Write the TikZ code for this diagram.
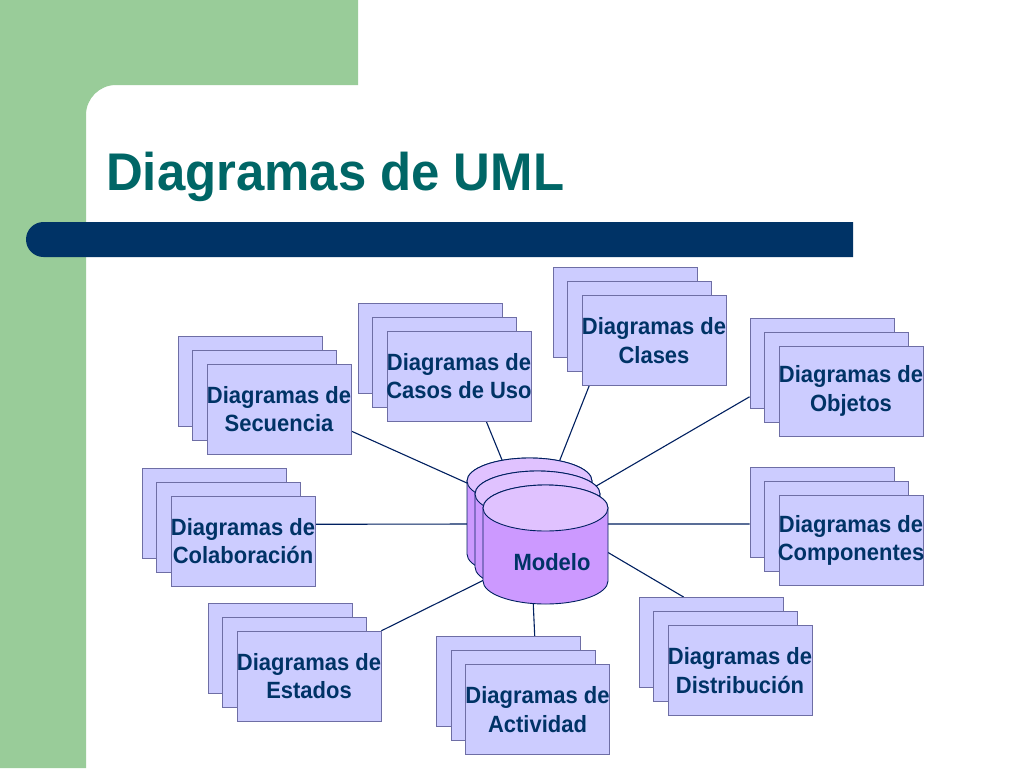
\documentclass[tikz,border=0pt]{standalone}
\usepackage{fontspec}
\setmainfont{Liberation Sans}
\newfontfamily\estrecha[FakeStretch=0.935]{Liberation Sans}
\newfontfamily\titular[FakeStretch=0.96]{Liberation Sans}
\usepackage{tikz}
\usetikzlibrary{backgrounds}

\definecolor{verde}{RGB}{153,204,153}
\definecolor{azul}{RGB}{0,51,102}
\definecolor{titulo}{RGB}{0,102,102}
\definecolor{lila}{RGB}{204,153,255}
\definecolor{lilaclaro}{RGB}{224,194,255}
\definecolor{lavanda}{RGB}{204,204,255}
\definecolor{borde}{RGB}{110,110,165}
\definecolor{linea}{RGB}{0,32,96}

\pgfdeclarelayer{fondo}
\pgfdeclarelayer{lineas}
\pgfsetlayers{fondo,lineas,main}

\tikzset{
	hoja/.style={draw=borde, fill=lavanda, line width=0.8pt, minimum width=144pt, minimum height=90pt, inner sep=0pt},
	texto/.style={text=azul, font=\estrecha\fontsize{23.5}{28.5}\selectfont\bfseries, align=center, inner sep=0pt},
	union/.style={draw=linea, line width=1.1pt},
	cilindro/.style={draw=linea, line width=0.9pt, fill=lila},
}

\begin{document}
\begin{tikzpicture}[x=1pt,y=-1pt]
	\useasboundingbox (0,0) rectangle (1024,768);
	\begin{pgfonlayer}{fondo}
		\fill[white] (0,0) rectangle (1024,768);
		\fill[verde] (0,0) -- (358,0) -- (358,85) -- (116,85) arc[start angle=90, end angle=180, radius=30pt] -- (86,768) -- (0,768) -- cycle;
		\fill[azul] (853,222) -- (43.5,222) arc[start angle=90, end angle=270, radius=17.5pt] -- (853,257) -- cycle;
	\end{pgfonlayer}
	\node[anchor=base west, inner sep=0pt, text=titulo, font=\titular\fontsize{53}{60}\selectfont\bfseries] (tit) at (106,190) {Diagramas de UML};
	
	\foreach \n/\x/\y/\t in {sec/279/409/{Diagramas de\\Secuencia}, cas/459/376/{Diagramas de\\Casos de Uso}, cla/654/340.5/{Diagramas de\\Clases}, obj/851/391/{Diagramas de\\Objetos}, col/243/541/{Diagramas de\\Colaboración}, com/851/540.5/{Diagramas de\\Componentes}, est/309/676/{Diagramas de\\Estados}, act/537.5/709.5/{Diagramas de\\Actividad}, dis/740/670.5/{Diagramas de\\Distribución}}
	{
		\pgfmathsetmacro{\xa}{\x-29}
		\pgfmathsetmacro{\ya}{\y-28}
		\pgfmathsetmacro{\xb}{\x-14.5}
		\pgfmathsetmacro{\yb}{\y-14}
		\node[hoja] (\n-a) at (\xa,\ya) {};
		\node[hoja] (\n-b) at (\xb,\yb) {};
		\node[hoja] (\n) at (\x,\y) {};
		\node[texto] at (\n) {\t};
	}
	
	\begin{pgfonlayer}{lineas}
		\foreach \n/\a/\px/\py in {sec/-17/472.5/485.5, cas/-59/504.3/465.5, cla/215.8/557.7/465.5, obj-a/205.8/592.8/488, col/13.3/473/524, com-a/189.1/602/524, dis-a/121.1/603.8/550, est/32/487.4/578.3, act-a/60.9/533/598}
		{
			\coordinate (m-\n) at (\px,\py);
			\draw[union] (\n.\a) -- (m-\n);
		}
	\end{pgfonlayer}
	
	\foreach \l/\t in {467/481, 475/494, 483/508}
	{
		\pgfmathsetmacro{\xr}{\l+125}
		\pgfmathsetmacro{\yf}{\t+73}
		\pgfmathsetmacro{\xc}{\l+62.5}
		\draw[cilindro] (\l,\t) -- (\l,\yf) arc[start angle=180, end angle=360, x radius=62.5pt, y radius=23pt] -- (\xr,\t) arc[start angle=0, end angle=180, x radius=62.5pt, y radius=23pt] -- cycle;
		\draw[cilindro, fill=lilaclaro] (\xc,\t) ellipse [x radius=62.5pt, y radius=23pt];
	}
	\node[texto] (modelo) at (552,562) {Modelo};
\end{tikzpicture}
\end{document}
